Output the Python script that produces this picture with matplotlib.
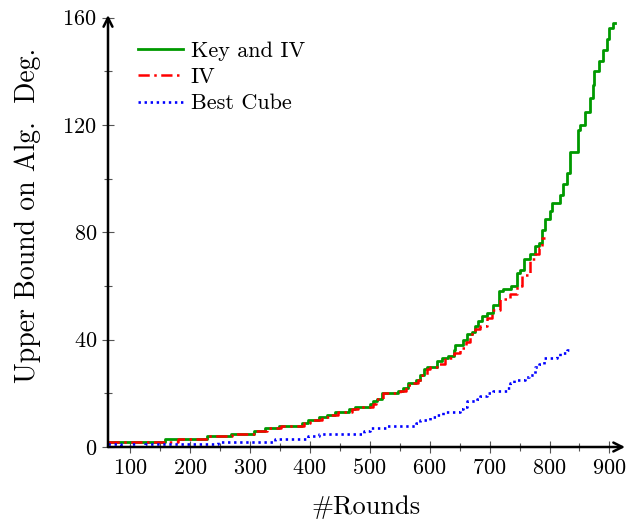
import numpy as np
import matplotlib
matplotlib.use('Agg')
import matplotlib.pyplot as plt
from matplotlib.ticker import MultipleLocator

# --- data (round where the bound steps up, new bound) ---
key_iv_rounds = [64, 158, 228, 268, 307, 325, 349, 387, 397, 415, 428, 442, 466, 475,
                 500, 505, 512, 520, 548, 556, 564, 578, 584, 590, 595, 612, 620, 631,
                 640, 643, 656, 662, 670, 675, 680, 687, 696, 706, 715, 723, 735, 745,
                 751, 758, 768, 776, 782, 787, 793, 800, 804, 818, 823, 829, 834, 848,
                 851, 860, 867, 872, 875, 882, 889, 896, 900, 906, 909]
key_iv_deg = [2, 3, 4, 5, 6, 7, 8, 9, 10, 11, 12, 13, 14, 15,
              16, 17, 18, 20, 21, 22, 24, 25, 27, 29, 30, 32, 33, 34,
              36, 38, 40, 42, 43, 45, 47, 49, 50, 53, 58, 59, 60, 65,
              66, 70, 72, 75, 76, 81, 85, 88, 91, 94, 98, 102, 110, 118,
              120, 125, 130, 135, 140, 144, 148, 152, 156, 158, 158]

iv_rounds = [64, 180, 230, 270, 310, 328, 352, 390, 400, 420, 432, 448, 470, 480,
             505, 510, 522, 550, 560, 570, 580, 588, 595, 600, 615, 625, 640, 650,
             660, 668, 676, 684, 695, 704, 718, 734, 746, 754, 768, 775, 782, 787, 793]
iv_deg = [2, 3, 4, 5, 6, 7, 8, 9, 10, 11, 12, 13, 14, 15,
          16, 18, 20, 21, 23, 24, 25, 27, 29, 30, 31, 33, 35, 37,
          39, 42, 44, 45, 48, 51, 55, 57, 60, 64, 70, 72, 74, 78, 78]

cube_rounds = [64, 85, 100, 110, 125, 247, 342, 397, 415, 490, 500, 528, 578, 584,
               600, 612, 623, 651, 656, 662, 679, 684, 695, 706, 729, 734, 740, 759,
               765, 776, 782, 790, 812, 818, 829, 838]
cube_deg = [1, 0, 1, 0, 1, 2, 3, 4, 5, 6, 7, 8, 9, 10,
            11, 12, 13, 14, 15, 17, 18, 19, 20, 21, 22, 24, 25, 26,
            27, 30, 31, 33, 34, 35, 36, 36]

x_ticks = [100, 200, 300, 400, 500, 600, 700, 800, 900]
y_ticks = [0, 40, 80, 120, 160]

plt.rcParams['font.family'] = 'serif'
plt.rcParams['font.serif'] = ['cmr10', 'DejaVu Serif']
plt.rcParams['mathtext.fontset'] = 'cm'
plt.rcParams['axes.unicode_minus'] = False
plt.rcParams['axes.formatter.use_mathtext'] = True

fig = plt.figure(figsize=(6.29, 5.23), dpi=100)
ax = fig.add_axes([0.1717, 0.1453, 0.822, 0.826])

ax.step(key_iv_rounds, key_iv_deg, where='post', color='#009900', lw=2.0,
        label='Key and IV')
ax.step(iv_rounds, iv_deg, where='post', color='#ff0000', lw=1.8,
        dashes=(4.5, 1.8, 1.0, 1.8), label='IV')
ax.step(cube_rounds, cube_deg, where='post', color='#0000ff', lw=1.9,
        dashes=(0.9, 1.4), label='Best Cube')

ax.set_xlim(63.5, 926)
ax.set_ylim(0, 161)
ax.set_xticks(x_ticks)
ax.set_yticks(y_ticks)
ax.xaxis.set_minor_locator(MultipleLocator(50))
ax.yaxis.set_minor_locator(MultipleLocator(20))
ax.tick_params(which='both', direction='inout', color='#555555', width=0.8,
               labelsize=16)
ax.tick_params(which='major', length=8)
ax.tick_params(which='minor', length=6)
ax.tick_params(axis='x', pad=4)
ax.tick_params(axis='y', pad=4)

for s in ['top', 'right', 'left', 'bottom']:
    ax.spines[s].set_visible(False)

# axis lines with arrow tips, pgfplots style
arrow = dict(arrowstyle='->', lw=1.8, color='black', mutation_scale=16,
             shrinkA=0, shrinkB=0)
ax.annotate('', xy=(1.0, 0), xytext=(0, 0), xycoords='axes fraction',
            arrowprops=arrow, annotation_clip=False)
ax.annotate('', xy=(0, 1.0), xytext=(0, 0), xycoords='axes fraction',
            arrowprops=arrow, annotation_clip=False)

ax.set_xlabel('#Rounds', fontsize=19, labelpad=12)
ax.set_ylabel('Upper Bound on Alg.  Deg.', fontsize=20)
ax.yaxis.set_label_coords(-0.13, 0.537)

ax.legend(loc='upper left', bbox_to_anchor=(0.02, 0.985), frameon=False,
          fontsize=16, handlelength=2.0, handletextpad=0.35, labelspacing=0.3)

fig.savefig('out.png', dpi=100)
